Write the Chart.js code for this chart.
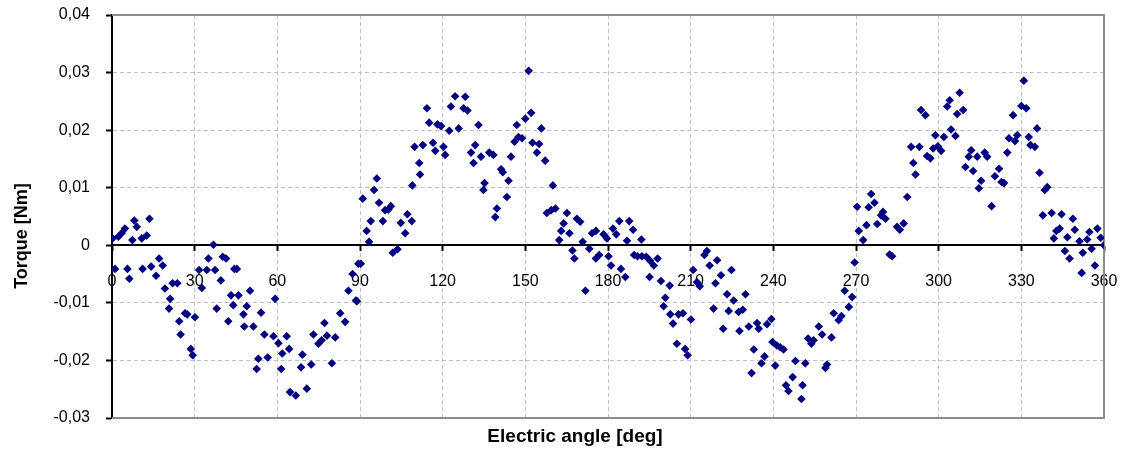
<!DOCTYPE html>
<html lang="en">
<head>
  <meta charset="UTF-8">
  <title>Torque vs electric angle</title>
  <script src="https://cdn.jsdelivr.net/npm/chart.js@4.4.1/dist/chart.umd.min.js"></script>
  <style>
    html, body { margin: 0; padding: 0; background: #fff; }
    #wrap { width: 1125px; height: 455px; }
  </style>
</head>
<body>
  <div id="wrap"><canvas id="torqueChart"></canvas></div>

  <script>
    // measured points: electric angle [deg] and torque [Nm]
    const angle = [
      0.2, 2.3, 3.5, 4.7, 8.1, 9.0, 7.4, 10.8, 12.6, 13.6, 1.1, 5.6, 6.3, 11.1, 14.2, 16.0, 17.1, 18.4, 19.2, 21.1,
      20.7, 22.0, 23.7, 24.4, 24.9, 26.5, 27.3, 28.6, 29.3, 30.1, 31.6, 32.6, 34.4, 35.0, 36.8, 37.4, 38.0, 39.5, 40.2, 41.4,
      42.2, 43.2, 44.0, 44.4, 45.3, 45.9, 47.7, 48.9, 48.0, 50.1, 51.3, 54.1, 55.3, 53.1, 52.5, 56.5, 58.6, 59.2, 60.4, 61.8,
      63.4, 64.3, 61.4, 64.6, 66.7, 69.1, 68.6, 70.7, 72.3, 73.1, 74.9, 76.1, 77.1, 78.0, 79.8, 81.0, 82.8, 84.6, 85.8, 87.3,
      88.5, 89.4, 88.9, 90.3, 91.0, 92.4, 93.3, 93.9, 95.1, 96.1, 96.9, 98.3, 99.1, 100.3, 101.2, 101.9, 103.6, 104.8, 106.4, 107.2,
      108.8, 109.0, 111.8, 111.5, 109.8, 112.8, 114.3, 115.1, 116.5, 117.3, 118.1, 119.4, 120.3, 120.9, 122.4, 123.0, 124.5, 125.8, 128.2, 127.6,
      129.0, 133.0, 130.3, 131.8, 131.2, 133.9, 134.8, 135.2, 136.9, 138.4, 141.2, 141.8, 143.9, 143.3, 139.7, 139.1, 144.8, 146.1, 146.9, 147.5,
      148.8, 150.0, 151.2, 152.1, 152.6, 154.2, 155.0, 155.8, 157.2, 160.0, 157.8, 159.4, 160.9, 162.3, 163.0, 163.9, 165.1, 166.0, 167.1, 167.8,
      168.7, 169.9, 170.8, 171.8, 173.2, 174.2, 175.6, 175.6, 176.8, 178.4, 179.6, 180.2, 181.1, 181.8, 183.0, 184.1, 184.7, 186.3, 186.9, 187.7,
      189.1, 189.5, 190.7, 192.1, 192.3, 193.9, 195.1, 195.3, 196.6, 198.0, 199.2, 200.2, 200.8, 202.4, 202.6, 203.6, 205.0, 205.6, 207.2, 208.0,
      208.9, 210.1, 210.9, 212.3, 213.3, 215.0, 215.9, 216.9, 218.3, 219.0, 219.6, 221.0, 221.8, 223.2, 223.8, 224.8, 225.6, 227.4, 227.7, 228.9,
      229.9, 231.1, 232.1, 232.9, 234.1, 234.7, 235.7, 236.8, 237.7, 239.3, 239.7, 240.7, 241.3, 242.5, 243.7, 244.6, 245.5, 247.0, 248.0, 250.2,
      250.6, 251.6, 252.6, 253.8, 254.6, 256.5, 257.7, 258.9, 259.5, 261.1, 261.9, 263.7, 264.7, 265.9, 267.4, 268.6, 269.5, 270.4, 271.0, 272.6,
      273.8, 274.6, 275.5, 276.7, 277.7, 279.1, 279.8, 280.7, 282.2, 283.1, 284.9, 285.9, 287.3, 288.6, 290.0, 290.8, 291.6, 293.0, 293.6, 295.2,
      295.8, 297.0, 298.0, 298.8, 299.7, 300.9, 301.9, 303.1, 304.0, 304.5, 306.1, 306.7, 307.6, 308.9, 309.7, 310.9, 311.8, 312.5, 314.0, 314.6,
      315.4, 316.7, 317.6, 319.2, 320.4, 321.9, 322.8, 323.7, 324.9, 325.5, 327.0, 327.7, 328.5, 330.0, 330.9, 331.8, 332.7, 333.3, 334.9, 335.7,
      336.6, 338.5, 339.4, 337.8, 341.0, 341.8, 342.7, 343.9, 344.6, 345.8, 346.7, 347.5, 348.7, 349.4, 351.1, 351.9, 352.3, 353.9, 354.7, 355.5,
      356.7, 357.6, 358.8, 360.0
    ];
    const torque = [
      0.0012, 0.0015, 0.0021, 0.0029, 0.0043, 0.0032, 0.0009, 0.0012, 0.0017, 0.0046, -0.0041, -0.0041, -0.0058, -0.0041, -0.0037, -0.0053, -0.0023, -0.0035, -0.0075, -0.0093,
      -0.0110, -0.0066, -0.0066, -0.0132, -0.0155, -0.0118, -0.0120, -0.0180, -0.0191, -0.0125, -0.0043, -0.0074, -0.0043, -0.0023, 0.0001, -0.0043, -0.0110, -0.0061, -0.0020, -0.0023,
      -0.0132, -0.0087, -0.0104, -0.0041, -0.0041, -0.0087, -0.0120, -0.0106, -0.0141, -0.0079, -0.0141, -0.0117, -0.0155, -0.0197, -0.0215, -0.0195, -0.0158, -0.0093, -0.0170, -0.0188,
      -0.0158, -0.0180, -0.0215, -0.0255, -0.0261, -0.0190, -0.0212, -0.0249, -0.0207, -0.0155, -0.0171, -0.0165, -0.0135, -0.0157, -0.0205, -0.0160, -0.0118, -0.0133, -0.0079, -0.0050,
      -0.0096, -0.0032, -0.0097, -0.0032, 0.0081, 0.0025, 0.0006, 0.0042, 0.0096, 0.0116, 0.0074, 0.0042, 0.0061, 0.0062, 0.0068, -0.0013, -0.0007, 0.0039, 0.0021, 0.0054,
      0.0042, 0.0104, 0.0123, 0.0143, 0.0171, 0.0174, 0.0238, 0.0213, 0.0178, 0.0164, 0.0210, 0.0207, 0.0171, 0.0157, 0.0199, 0.0241, 0.0259, 0.0203, 0.0258, 0.0238,
      0.0234, 0.0209, 0.0161, 0.0174, 0.0143, 0.0154, 0.0096, 0.0108, 0.0161, 0.0157, 0.0132, 0.0127, 0.0112, 0.0084, 0.0064, 0.0049, 0.0154, 0.0180, 0.0209, 0.0188,
      0.0186, 0.0220, 0.0303, 0.0230, 0.0178, 0.0161, 0.0176, 0.0203, 0.0147, 0.0104, 0.0056, 0.0061, 0.0064, 0.0009, 0.0025, 0.0038, 0.0056, 0.0021, -0.0009, -0.0023,
      0.0046, 0.0041, 0.0006, -0.0079, -0.0006, 0.0021, 0.0025, -0.0023, -0.0017, 0.0019, 0.0012, -0.0019, -0.0035, 0.0029, 0.0019, 0.0042, -0.0041, -0.0055, 0.0008, 0.0042,
      0.0027, -0.0017, -0.0019, 0.0010, -0.0019, -0.0020, -0.0055, -0.0027, -0.0035, -0.0023, -0.0062, -0.0106, -0.0091, -0.0070, -0.0120, -0.0136, -0.0171, -0.0120, -0.0118, -0.0180,
      -0.0191, -0.0129, -0.0043, -0.0064, -0.0071, -0.0017, -0.0010, -0.0035, -0.0110, -0.0066, -0.0026, -0.0052, -0.0145, -0.0085, -0.0114, -0.0043, -0.0096, -0.0116, -0.0149, -0.0112,
      -0.0085, -0.0141, -0.0222, -0.0181, -0.0135, -0.0145, -0.0205, -0.0193, -0.0137, -0.0128, -0.0168, -0.0209, -0.0174, -0.0177, -0.0181, -0.0243, -0.0253, -0.0229, -0.0201, -0.0267,
      -0.0243, -0.0205, -0.0162, -0.0171, -0.0165, -0.0141, -0.0155, -0.0213, -0.0207, -0.0160, -0.0118, -0.0130, -0.0123, -0.0079, -0.0107, -0.0090, -0.0030, 0.0067, 0.0025, 0.0009,
      0.0035, 0.0066, 0.0089, 0.0074, 0.0037, 0.0052, 0.0058, 0.0046, -0.0016, -0.0019, 0.0032, 0.0027, 0.0038, 0.0084, 0.0171, 0.0143, 0.0123, 0.0171, 0.0235, 0.0226,
      0.0155, 0.0151, 0.0168, 0.0191, 0.0172, 0.0164, 0.0188, 0.0241, 0.0252, 0.0201, 0.0190, 0.0228, 0.0265, 0.0235, 0.0136, 0.0154, 0.0165, 0.0129, 0.0154, 0.0099,
      0.0112, 0.0161, 0.0154, 0.0068, 0.0120, 0.0133, 0.0110, 0.0108, 0.0161, 0.0186, 0.0226, 0.0181, 0.0191, 0.0242, 0.0286, 0.0238, 0.0188, 0.0174, 0.0171, 0.0203,
      0.0126, 0.0096, 0.0101, 0.0052, 0.0056, 0.0012, 0.0025, 0.0029, 0.0054, -0.0010, 0.0014, -0.0023, 0.0046, 0.0027, 0.0007, -0.0048, -0.0013, 0.0010, 0.0023, -0.0006,
      -0.0035, 0.0029, 0.0013, 0.0000
    ];

    // axis ticks
    const angleMin = 0, angleMax = 360, angleStep = 30;
    const torqueMin = -0.03, torqueMax = 0.04, torqueStep = 0.01;
    const xTitle = 'Electric angle [deg]';
    const yTitle = 'Torque [Nm]';

    const FONT = "'Liberation Sans', Arial, sans-serif";
    const points = angle.map((a, i) => ({ x: a, y: torque[i] }));

    // grey frame on top/right/bottom of the plot area
    const framePlugin = {
      id: 'frame',
      beforeDatasetsDraw(chart) {
        const { ctx, chartArea: a } = chart;
        ctx.save();
        ctx.strokeStyle = '#8c8c8c';
        ctx.lineWidth = 2;
        ctx.beginPath();
        ctx.moveTo(a.left, a.top);
        ctx.lineTo(a.right, a.top);
        ctx.lineTo(a.right, a.bottom);
        ctx.lineTo(a.left, a.bottom);
        ctx.stroke();
        ctx.restore();
      }
    };

    // axis titles (x axis sits on y=0, so its own title would land in the middle)
    const titlesPlugin = {
      id: 'axisTitles',
      afterDraw(chart) {
        const ctx = chart.ctx;
        ctx.save();
        ctx.fillStyle = '#000';
        ctx.textAlign = 'center';
        ctx.textBaseline = 'middle';
        ctx.font = 'bold 19px ' + FONT;
        ctx.fillText(xTitle, 575, 437);
        ctx.translate(22, 236);
        ctx.rotate(-Math.PI / 2);
        ctx.font = 'bold 18px ' + FONT;
        ctx.fillText(yTitle, 0, 0);
        ctx.restore();
      }
    };

    const hideEdge = (lo, hi) => c => {
      const v = Math.round(c.tick.value * 1000) / 1000;
      return (v === lo || v === hi || v === 0) ? 'rgba(0,0,0,0)' : '#c0c0c0';
    };

    // labels may hang over the plot edges; don't let them push the plot area in
    const noEdgePadding = s => {
      s.paddingTop = 0; s.paddingBottom = 0;
      s.paddingLeft = 0; s.paddingRight = 0;
    };

    new Chart(document.getElementById('torqueChart'), {
      type: 'scatter',
      data: {
        datasets: [{
          data: points,
          pointStyle: 'rectRot',
          pointRadius: 4.3,
          pointBorderWidth: 0,
          backgroundColor: '#000080',
          borderColor: '#000080'
        }]
      },
      options: {
        responsive: true,
        maintainAspectRatio: false,
        animation: false,
        layout: { padding: { top: 15, right: 21, bottom: 37, left: 0 } },
        plugins: {
          legend: { display: false },
          tooltip: { enabled: false }
        },
        scales: {
          x: {
            type: 'linear',
            position: { y: 0 },
            min: angleMin,
            max: angleMax,
            afterFit: noEdgePadding,
            ticks: {
              stepSize: angleStep,
              color: '#000',
              padding: 22,
              maxRotation: 0,
              font: { family: FONT, size: 16 }
            },
            grid: {
              color: hideEdge(angleMin, angleMax),
              lineWidth: 1,
              tickLength: 5,
              tickColor: '#000',
              tickWidth: 2,
              tickBorderDash: []
            },
            border: { display: true, color: '#000', width: 2, dash: [4, 3] }
          },
          y: {
            min: torqueMin,
            max: torqueMax,
            afterFit: s => { s.width = 112; noEdgePadding(s); },
            ticks: {
              stepSize: torqueStep,
              color: '#000',
              padding: 16,
              font: { family: FONT, size: 16 },
              callback: v => {
                const r = Math.round(v * 100) / 100;
                return r === 0 ? '0' : r.toFixed(2).replace('.', ',');
              }
            },
            grid: {
              color: hideEdge(torqueMin, torqueMax),
              lineWidth: 1,
              tickLength: 6,
              tickColor: '#000',
              tickWidth: 2,
              tickBorderDash: []
            },
            border: { display: true, color: '#000', width: 2, dash: [4, 3] }
          }
        }
      },
      plugins: [framePlugin, titlesPlugin]
    });
  </script>
</body>
</html>
